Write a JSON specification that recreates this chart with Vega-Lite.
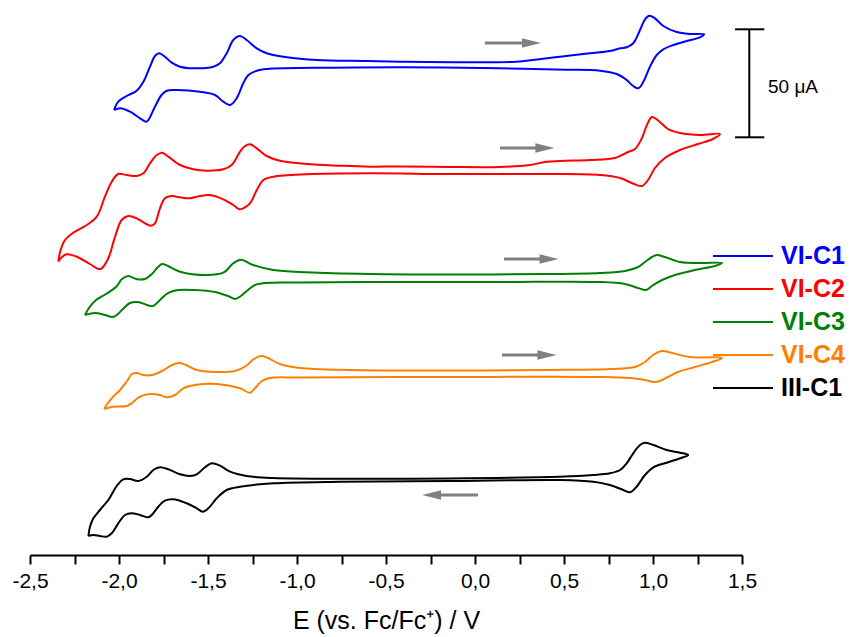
{
  "$schema": "https://vega.github.io/schema/vega-lite/v6.json",
  "width": 712,
  "height": 555,
  "autosize": {"type": "none"},
  "padding": {"left": 30, "top": 0, "right": 110, "bottom": 82},
  "background": "white",
  "config": {"view": {"stroke": null}, "font": "Liberation Sans"},
  "datasets": {
    "cv": [
      {"s":"VI-C1","k":1,"E":-2.028,"j":445},{"s":"VI-C1","k":2,"E":-2.004,"j":453.3},{"s":"VI-C1","k":3,"E":-1.957,"j":459},{"s":"VI-C1","k":4,"E":-1.901,"j":464.3},{"s":"VI-C1","k":5,"E":-1.863,"j":473.3},{"s":"VI-C1","k":6,"E":-1.826,"j":488.3},{"s":"VI-C1","k":7,"E":-1.798,"j":499},{"s":"VI-C1","k":8,"E":-1.774,"j":501.7},{"s":"VI-C1","k":9,"E":-1.742,"j":498.3},{"s":"VI-C1","k":10,"E":-1.704,"j":492.3},{"s":"VI-C1","k":11,"E":-1.657,"j":488.3},{"s":"VI-C1","k":12,"E":-1.583,"j":486.7},{"s":"VI-C1","k":13,"E":-1.47,"j":488.3},{"s":"VI-C1","k":14,"E":-1.433,"j":491.7},{"s":"VI-C1","k":15,"E":-1.395,"j":501.7},{"s":"VI-C1","k":16,"E":-1.358,"j":515},{"s":"VI-C1","k":17,"E":-1.32,"j":519},{"s":"VI-C1","k":18,"E":-1.283,"j":515},{"s":"VI-C1","k":19,"E":-1.226,"j":506.7},{"s":"VI-C1","k":20,"E":-1.17,"j":501.7},{"s":"VI-C1","k":21,"E":-1.058,"j":497.7},{"s":"VI-C1","k":22,"E":-0.889,"j":495},{"s":"VI-C1","k":23,"E":-0.608,"j":494},{"s":"VI-C1","k":24,"E":-0.421,"j":493.3},{"s":"VI-C1","k":25,"E":0.234,"j":493.3},{"s":"VI-C1","k":26,"E":0.326,"j":495},{"s":"VI-C1","k":27,"E":0.478,"j":498.3},{"s":"VI-C1","k":28,"E":0.646,"j":501.7},{"s":"VI-C1","k":29,"E":0.758,"j":504},{"s":"VI-C1","k":30,"E":0.815,"j":506.7},{"s":"VI-C1","k":31,"E":0.852,"j":507.7},{"s":"VI-C1","k":32,"E":0.889,"j":511.7},{"s":"VI-C1","k":33,"E":0.927,"j":525},{"s":"VI-C1","k":34,"E":0.955,"j":535.7},{"s":"VI-C1","k":35,"E":0.979,"j":539.3},{"s":"VI-C1","k":36,"E":1.011,"j":536.7},{"s":"VI-C1","k":37,"E":1.058,"j":529},{"s":"VI-C1","k":38,"E":1.133,"j":523},{"s":"VI-C1","k":39,"E":1.208,"j":521},{"s":"VI-C1","k":40,"E":1.287,"j":520.7},{"s":"VI-C1","k":41,"E":1.264,"j":517.7},{"s":"VI-C1","k":42,"E":1.189,"j":514},{"s":"VI-C1","k":43,"E":1.114,"j":510},{"s":"VI-C1","k":44,"E":1.058,"j":505.7},{"s":"VI-C1","k":45,"E":1.021,"j":500},{"s":"VI-C1","k":46,"E":0.983,"j":488.3},{"s":"VI-C1","k":47,"E":0.946,"j":473.3},{"s":"VI-C1","k":48,"E":0.917,"j":466.7},{"s":"VI-C1","k":49,"E":0.889,"j":469},{"s":"VI-C1","k":50,"E":0.852,"j":475},{"s":"VI-C1","k":51,"E":0.796,"j":481},{"s":"VI-C1","k":52,"E":0.702,"j":484.3},{"s":"VI-C1","k":53,"E":0.515,"j":485.3},{"s":"VI-C1","k":54,"E":0.328,"j":486},{"s":"VI-C1","k":55,"E":0.14,"j":486.7},{"s":"VI-C1","k":56,"E":-0.421,"j":487.7},{"s":"VI-C1","k":57,"E":-0.796,"j":487.3},{"s":"VI-C1","k":58,"E":-1.17,"j":486},{"s":"VI-C1","k":59,"E":-1.226,"j":484.3},{"s":"VI-C1","k":60,"E":-1.273,"j":480},{"s":"VI-C1","k":61,"E":-1.302,"j":471.7},{"s":"VI-C1","k":62,"E":-1.339,"j":456.7},{"s":"VI-C1","k":63,"E":-1.376,"j":450},{"s":"VI-C1","k":64,"E":-1.414,"j":453.3},{"s":"VI-C1","k":65,"E":-1.461,"j":460},{"s":"VI-C1","k":66,"E":-1.545,"j":463.3},{"s":"VI-C1","k":67,"E":-1.676,"j":465},{"s":"VI-C1","k":68,"E":-1.732,"j":464.3},{"s":"VI-C1","k":69,"E":-1.761,"j":460},{"s":"VI-C1","k":70,"E":-1.798,"j":448.3},{"s":"VI-C1","k":71,"E":-1.835,"j":435},{"s":"VI-C1","k":72,"E":-1.848,"j":433.3},{"s":"VI-C1","k":73,"E":-1.882,"j":436.7},{"s":"VI-C1","k":74,"E":-1.938,"j":443.3},{"s":"VI-C1","k":75,"E":-1.994,"j":446.7},{"s":"VI-C1","k":76,"E":-2.028,"j":445},

      {"s":"VI-C2","k":1,"E":-2.341,"j":293.3},{"s":"VI-C2","k":2,"E":-2.328,"j":305},{"s":"VI-C2","k":3,"E":-2.303,"j":315},{"s":"VI-C2","k":4,"E":-2.257,"j":322.3},{"s":"VI-C2","k":5,"E":-2.181,"j":330},{"s":"VI-C2","k":6,"E":-2.125,"j":338.3},{"s":"VI-C2","k":7,"E":-2.079,"j":358.3},{"s":"VI-C2","k":8,"E":-2.041,"j":373.3},{"s":"VI-C2","k":9,"E":-2.004,"j":381},{"s":"VI-C2","k":10,"E":-1.957,"j":380},{"s":"VI-C2","k":11,"E":-1.901,"j":379},{"s":"VI-C2","k":12,"E":-1.863,"j":381.7},{"s":"VI-C2","k":13,"E":-1.826,"j":391.7},{"s":"VI-C2","k":14,"E":-1.788,"j":400},{"s":"VI-C2","k":15,"E":-1.757,"j":402.3},{"s":"VI-C2","k":16,"E":-1.723,"j":398.3},{"s":"VI-C2","k":17,"E":-1.657,"j":390},{"s":"VI-C2","k":18,"E":-1.583,"j":385.7},{"s":"VI-C2","k":19,"E":-1.507,"j":384.3},{"s":"VI-C2","k":20,"E":-1.414,"j":385.7},{"s":"VI-C2","k":21,"E":-1.367,"j":390},{"s":"VI-C2","k":22,"E":-1.32,"j":403.3},{"s":"VI-C2","k":23,"E":-1.292,"j":409},{"s":"VI-C2","k":24,"E":-1.264,"j":410.7},{"s":"VI-C2","k":25,"E":-1.226,"j":406.7},{"s":"VI-C2","k":26,"E":-1.17,"j":399},{"s":"VI-C2","k":27,"E":-1.096,"j":394.3},{"s":"VI-C2","k":28,"E":-0.946,"j":391},{"s":"VI-C2","k":29,"E":-0.758,"j":389.3},{"s":"VI-C2","k":30,"E":-0.59,"j":388.3},{"s":"VI-C2","k":31,"E":-0.421,"j":388.5},{"s":"VI-C2","k":32,"E":-0.14,"j":388},{"s":"VI-C2","k":33,"E":0.14,"j":388},{"s":"VI-C2","k":34,"E":0.309,"j":390},{"s":"VI-C2","k":35,"E":0.393,"j":393},{"s":"VI-C2","k":36,"E":0.478,"j":394},{"s":"VI-C2","k":37,"E":0.646,"j":395},{"s":"VI-C2","k":38,"E":0.787,"j":397},{"s":"VI-C2","k":39,"E":0.86,"j":403},{"s":"VI-C2","k":40,"E":0.899,"j":406},{"s":"VI-C2","k":41,"E":0.938,"j":417},{"s":"VI-C2","k":42,"E":0.966,"j":430},{"s":"VI-C2","k":43,"E":0.994,"j":438},{"s":"VI-C2","k":44,"E":1.039,"j":433},{"s":"VI-C2","k":45,"E":1.084,"j":426},{"s":"VI-C2","k":46,"E":1.152,"j":422},{"s":"VI-C2","k":47,"E":1.264,"j":420},{"s":"VI-C2","k":48,"E":1.376,"j":421},{"s":"VI-C2","k":49,"E":1.337,"j":416},{"s":"VI-C2","k":50,"E":1.253,"j":411},{"s":"VI-C2","k":51,"E":1.152,"j":405},{"s":"VI-C2","k":52,"E":1.067,"j":397},{"s":"VI-C2","k":53,"E":1.011,"j":387},{"s":"VI-C2","k":54,"E":0.972,"j":375},{"s":"VI-C2","k":55,"E":0.938,"j":369},{"s":"VI-C2","k":56,"E":0.893,"j":371},{"s":"VI-C2","k":57,"E":0.815,"j":377},{"s":"VI-C2","k":58,"E":0.702,"j":380},{"s":"VI-C2","k":59,"E":0.421,"j":381},{"s":"VI-C2","k":60,"E":-0.14,"j":381},{"s":"VI-C2","k":61,"E":-0.59,"j":381.7},{"s":"VI-C2","k":62,"E":-0.946,"j":380.7},{"s":"VI-C2","k":63,"E":-1.133,"j":378.3},{"s":"VI-C2","k":64,"E":-1.189,"j":375},{"s":"VI-C2","k":65,"E":-1.226,"j":365},{"s":"VI-C2","k":66,"E":-1.264,"j":351.7},{"s":"VI-C2","k":67,"E":-1.302,"j":346.7},{"s":"VI-C2","k":68,"E":-1.324,"j":345.7},{"s":"VI-C2","k":69,"E":-1.358,"j":350},{"s":"VI-C2","k":70,"E":-1.414,"j":355.7},{"s":"VI-C2","k":71,"E":-1.489,"j":360},{"s":"VI-C2","k":72,"E":-1.545,"j":359},{"s":"VI-C2","k":73,"E":-1.601,"j":356.7},{"s":"VI-C2","k":74,"E":-1.657,"j":357.7},{"s":"VI-C2","k":75,"E":-1.704,"j":359},{"s":"VI-C2","k":76,"E":-1.742,"j":356.7},{"s":"VI-C2","k":77,"E":-1.77,"j":346.7},{"s":"VI-C2","k":78,"E":-1.798,"j":331.7},{"s":"VI-C2","k":79,"E":-1.822,"j":329.3},{"s":"VI-C2","k":80,"E":-1.854,"j":331.7},{"s":"VI-C2","k":81,"E":-1.901,"j":336.7},{"s":"VI-C2","k":82,"E":-1.948,"j":339},{"s":"VI-C2","k":83,"E":-1.985,"j":335},{"s":"VI-C2","k":84,"E":-2.022,"j":318.3},{"s":"VI-C2","k":85,"E":-2.06,"j":296.7},{"s":"VI-C2","k":86,"E":-2.097,"j":286.7},{"s":"VI-C2","k":87,"E":-2.116,"j":286},{"s":"VI-C2","k":88,"E":-2.163,"j":291},{"s":"VI-C2","k":89,"E":-2.238,"j":298.3},{"s":"VI-C2","k":90,"E":-2.294,"j":300.7},{"s":"VI-C2","k":91,"E":-2.322,"j":297.7},{"s":"VI-C2","k":92,"E":-2.341,"j":293.3},

      {"s":"VI-C3","k":1,"E":-2.191,"j":240},{"s":"VI-C3","k":2,"E":-2.169,"j":247},{"s":"VI-C3","k":3,"E":-2.129,"j":255},{"s":"VI-C3","k":4,"E":-2.073,"j":261},{"s":"VI-C3","k":5,"E":-2.017,"j":268},{"s":"VI-C3","k":6,"E":-1.983,"j":276},{"s":"VI-C3","k":7,"E":-1.949,"j":279},{"s":"VI-C3","k":8,"E":-1.904,"j":276},{"s":"VI-C3","k":9,"E":-1.854,"j":276},{"s":"VI-C3","k":10,"E":-1.815,"j":281},{"s":"VI-C3","k":11,"E":-1.781,"j":288},{"s":"VI-C3","k":12,"E":-1.758,"j":291},{"s":"VI-C3","k":13,"E":-1.725,"j":289},{"s":"VI-C3","k":14,"E":-1.657,"j":283.3},{"s":"VI-C3","k":15,"E":-1.507,"j":280},{"s":"VI-C3","k":16,"E":-1.414,"j":282.3},{"s":"VI-C3","k":17,"E":-1.358,"j":291.7},{"s":"VI-C3","k":18,"E":-1.316,"j":295.3},{"s":"VI-C3","k":19,"E":-1.246,"j":290},{"s":"VI-C3","k":20,"E":-1.133,"j":285},{"s":"VI-C3","k":21,"E":-0.946,"j":282.7},{"s":"VI-C3","k":22,"E":-0.59,"j":281},{"s":"VI-C3","k":23,"E":-0.14,"j":280.5},{"s":"VI-C3","k":24,"E":0.421,"j":281},{"s":"VI-C3","k":25,"E":0.702,"j":282},{"s":"VI-C3","k":26,"E":0.843,"j":284},{"s":"VI-C3","k":27,"E":0.916,"j":288},{"s":"VI-C3","k":28,"E":0.955,"j":293},{"s":"VI-C3","k":29,"E":0.994,"j":298},{"s":"VI-C3","k":30,"E":1.022,"j":300},{"s":"VI-C3","k":31,"E":1.067,"j":298},{"s":"VI-C3","k":32,"E":1.152,"j":293},{"s":"VI-C3","k":33,"E":1.264,"j":292},{"s":"VI-C3","k":34,"E":1.388,"j":292},{"s":"VI-C3","k":35,"E":1.348,"j":289},{"s":"VI-C3","k":36,"E":1.236,"j":285},{"s":"VI-C3","k":37,"E":1.124,"j":280},{"s":"VI-C3","k":38,"E":1.051,"j":275},{"s":"VI-C3","k":39,"E":0.994,"j":269},{"s":"VI-C3","k":40,"E":0.961,"j":265},{"s":"VI-C3","k":41,"E":0.916,"j":267},{"s":"VI-C3","k":42,"E":0.843,"j":271},{"s":"VI-C3","k":43,"E":0.702,"j":273},{"s":"VI-C3","k":44,"E":0.14,"j":273},{"s":"VI-C3","k":45,"E":-0.421,"j":273},{"s":"VI-C3","k":46,"E":-0.983,"j":272.5},{"s":"VI-C3","k":47,"E":-1.18,"j":272},{"s":"VI-C3","k":48,"E":-1.236,"j":270},{"s":"VI-C3","k":49,"E":-1.275,"j":265},{"s":"VI-C3","k":50,"E":-1.315,"j":259},{"s":"VI-C3","k":51,"E":-1.348,"j":256},{"s":"VI-C3","k":52,"E":-1.388,"j":259},{"s":"VI-C3","k":53,"E":-1.461,"j":263},{"s":"VI-C3","k":54,"E":-1.573,"j":265},{"s":"VI-C3","k":55,"E":-1.669,"j":265},{"s":"VI-C3","k":56,"E":-1.725,"j":262},{"s":"VI-C3","k":57,"E":-1.77,"j":255},{"s":"VI-C3","k":58,"E":-1.809,"j":249},{"s":"VI-C3","k":59,"E":-1.843,"j":250},{"s":"VI-C3","k":60,"E":-1.893,"j":253},{"s":"VI-C3","k":61,"E":-1.938,"j":252},{"s":"VI-C3","k":62,"E":-1.972,"j":247},{"s":"VI-C3","k":63,"E":-2.006,"j":241},{"s":"VI-C3","k":64,"E":-2.034,"j":238},{"s":"VI-C3","k":65,"E":-2.079,"j":240},{"s":"VI-C3","k":66,"E":-2.135,"j":242},{"s":"VI-C3","k":67,"E":-2.191,"j":240},

      {"s":"VI-C4","k":1,"E":-2.084,"j":146},{"s":"VI-C4","k":2,"E":-2.062,"j":152},{"s":"VI-C4","k":3,"E":-2.034,"j":158},{"s":"VI-C4","k":4,"E":-1.994,"j":165},{"s":"VI-C4","k":5,"E":-1.955,"j":174},{"s":"VI-C4","k":6,"E":-1.927,"j":181},{"s":"VI-C4","k":7,"E":-1.899,"j":182},{"s":"VI-C4","k":8,"E":-1.865,"j":180},{"s":"VI-C4","k":9,"E":-1.815,"j":180},{"s":"VI-C4","k":10,"E":-1.758,"j":184},{"s":"VI-C4","k":11,"E":-1.702,"j":190},{"s":"VI-C4","k":12,"E":-1.663,"j":192},{"s":"VI-C4","k":13,"E":-1.624,"j":190},{"s":"VI-C4","k":14,"E":-1.562,"j":185},{"s":"VI-C4","k":15,"E":-1.461,"j":183},{"s":"VI-C4","k":16,"E":-1.348,"j":184},{"s":"VI-C4","k":17,"E":-1.287,"j":189},{"s":"VI-C4","k":18,"E":-1.242,"j":196},{"s":"VI-C4","k":19,"E":-1.202,"j":199},{"s":"VI-C4","k":20,"E":-1.163,"j":197},{"s":"VI-C4","k":21,"E":-1.096,"j":191},{"s":"VI-C4","k":22,"E":-0.983,"j":187},{"s":"VI-C4","k":23,"E":-0.702,"j":185},{"s":"VI-C4","k":24,"E":-0.14,"j":184.5},{"s":"VI-C4","k":25,"E":0.421,"j":185},{"s":"VI-C4","k":26,"E":0.758,"j":186},{"s":"VI-C4","k":27,"E":0.899,"j":188},{"s":"VI-C4","k":28,"E":0.955,"j":193},{"s":"VI-C4","k":29,"E":1.0,"j":200},{"s":"VI-C4","k":30,"E":1.051,"j":204},{"s":"VI-C4","k":31,"E":1.107,"j":202},{"s":"VI-C4","k":32,"E":1.208,"j":198},{"s":"VI-C4","k":33,"E":1.388,"j":197},{"s":"VI-C4","k":34,"E":1.331,"j":193},{"s":"VI-C4","k":35,"E":1.236,"j":188},{"s":"VI-C4","k":36,"E":1.14,"j":183},{"s":"VI-C4","k":37,"E":1.084,"j":178},{"s":"VI-C4","k":38,"E":1.039,"j":174},{"s":"VI-C4","k":39,"E":1.006,"j":173},{"s":"VI-C4","k":40,"E":0.955,"j":175},{"s":"VI-C4","k":41,"E":0.871,"j":177},{"s":"VI-C4","k":42,"E":0.702,"j":178},{"s":"VI-C4","k":43,"E":-0.14,"j":178},{"s":"VI-C4","k":44,"E":-0.983,"j":177.5},{"s":"VI-C4","k":45,"E":-1.152,"j":177},{"s":"VI-C4","k":46,"E":-1.197,"j":174},{"s":"VI-C4","k":47,"E":-1.23,"j":168},{"s":"VI-C4","k":48,"E":-1.264,"j":162.3},{"s":"VI-C4","k":49,"E":-1.32,"j":166.7},{"s":"VI-C4","k":50,"E":-1.451,"j":171},{"s":"VI-C4","k":51,"E":-1.563,"j":170.3},{"s":"VI-C4","k":52,"E":-1.639,"j":166.7},{"s":"VI-C4","k":53,"E":-1.685,"j":160},{"s":"VI-C4","k":54,"E":-1.732,"j":157.7},{"s":"VI-C4","k":55,"E":-1.77,"j":160},{"s":"VI-C4","k":56,"E":-1.826,"j":161},{"s":"VI-C4","k":57,"E":-1.882,"j":158.3},{"s":"VI-C4","k":58,"E":-1.929,"j":151.7},{"s":"VI-C4","k":59,"E":-1.957,"j":149},{"s":"VI-C4","k":60,"E":-2.032,"j":148.3},{"s":"VI-C4","k":61,"E":-2.084,"j":146},

      {"s":"III-C1","k":1,"E":-2.172,"j":19},{"s":"III-C1","k":2,"E":-2.163,"j":28.3},{"s":"III-C1","k":3,"E":-2.144,"j":36.7},{"s":"III-C1","k":4,"E":-2.107,"j":45},{"s":"III-C1","k":5,"E":-2.06,"j":55},{"s":"III-C1","k":6,"E":-2.013,"j":69},{"s":"III-C1","k":7,"E":-1.976,"j":75.7},{"s":"III-C1","k":8,"E":-1.938,"j":76},{"s":"III-C1","k":9,"E":-1.892,"j":74},{"s":"III-C1","k":10,"E":-1.844,"j":78.3},{"s":"III-C1","k":11,"E":-1.807,"j":85},{"s":"III-C1","k":12,"E":-1.77,"j":87.7},{"s":"III-C1","k":13,"E":-1.723,"j":85.7},{"s":"III-C1","k":14,"E":-1.657,"j":80.7},{"s":"III-C1","k":15,"E":-1.601,"j":79},{"s":"III-C1","k":16,"E":-1.563,"j":80.7},{"s":"III-C1","k":17,"E":-1.517,"j":87.7},{"s":"III-C1","k":18,"E":-1.479,"j":91.7},{"s":"III-C1","k":19,"E":-1.433,"j":89.3},{"s":"III-C1","k":20,"E":-1.376,"j":83.3},{"s":"III-C1","k":21,"E":-1.283,"j":79},{"s":"III-C1","k":22,"E":-1.133,"j":77},{"s":"III-C1","k":23,"E":-0.758,"j":76.3},{"s":"III-C1","k":24,"E":-0.14,"j":76.5},{"s":"III-C1","k":25,"E":0.478,"j":78.3},{"s":"III-C1","k":26,"E":0.665,"j":80},{"s":"III-C1","k":27,"E":0.758,"j":81.7},{"s":"III-C1","k":28,"E":0.815,"j":85},{"s":"III-C1","k":29,"E":0.852,"j":91.7},{"s":"III-C1","k":30,"E":0.889,"j":101.7},{"s":"III-C1","k":31,"E":0.927,"j":110},{"s":"III-C1","k":32,"E":0.955,"j":112.3},{"s":"III-C1","k":33,"E":1.002,"j":110},{"s":"III-C1","k":34,"E":1.077,"j":105},{"s":"III-C1","k":35,"E":1.152,"j":102.3},{"s":"III-C1","k":36,"E":1.198,"j":100},{"s":"III-C1","k":37,"E":1.17,"j":97.7},{"s":"III-C1","k":38,"E":1.077,"j":92.3},{"s":"III-C1","k":39,"E":1.002,"j":87.7},{"s":"III-C1","k":40,"E":0.955,"j":80},{"s":"III-C1","k":41,"E":0.908,"j":68.3},{"s":"III-C1","k":42,"E":0.871,"j":62.7},{"s":"III-C1","k":43,"E":0.833,"j":65},{"s":"III-C1","k":44,"E":0.758,"j":70},{"s":"III-C1","k":45,"E":0.665,"j":73.3},{"s":"III-C1","k":46,"E":0.478,"j":75},{"s":"III-C1","k":47,"E":-0.14,"j":74},{"s":"III-C1","k":48,"E":-0.758,"j":73.3},{"s":"III-C1","k":49,"E":-1.133,"j":71.7},{"s":"III-C1","k":50,"E":-1.32,"j":68.3},{"s":"III-C1","k":51,"E":-1.395,"j":65},{"s":"III-C1","k":52,"E":-1.451,"j":56.7},{"s":"III-C1","k":53,"E":-1.498,"j":46.7},{"s":"III-C1","k":54,"E":-1.53,"j":43.3},{"s":"III-C1","k":55,"E":-1.563,"j":46.7},{"s":"III-C1","k":56,"E":-1.62,"j":51.7},{"s":"III-C1","k":57,"E":-1.695,"j":55.7},{"s":"III-C1","k":58,"E":-1.742,"j":54.3},{"s":"III-C1","k":59,"E":-1.779,"j":48.3},{"s":"III-C1","k":60,"E":-1.816,"j":40},{"s":"III-C1","k":61,"E":-1.835,"j":37.7},{"s":"III-C1","k":62,"E":-1.882,"j":40},{"s":"III-C1","k":63,"E":-1.929,"j":41.7},{"s":"III-C1","k":64,"E":-1.966,"j":40},{"s":"III-C1","k":65,"E":-2.004,"j":31.7},{"s":"III-C1","k":66,"E":-2.041,"j":21.7},{"s":"III-C1","k":67,"E":-2.069,"j":18.3},{"s":"III-C1","k":68,"E":-2.107,"j":19},{"s":"III-C1","k":69,"E":-2.144,"j":20},{"s":"III-C1","k":70,"E":-2.172,"j":19}
    ],
    "shafts": [
      {"E":0.056,"E2":0.27,"j":512},{"E":0.14,"E2":0.348,"j":407},{"E":0.163,"E2":0.371,"j":296},{"E":0.152,"E2":0.36,"j":200},{"E":-0.191,"E2":0.017,"j":60}
    ],
    "heads": [
      {"E":0.317,"j":512,"d":"r"},{"E":0.393,"j":407,"d":"r"},{"E":0.416,"j":296,"d":"r"},{"E":0.404,"j":200,"d":"r"},{"E":-0.244,"j":60,"d":"l"}
    ],
    "bar": [
      {"E":1.541,"E2":1.541,"j":417.7,"j2":525.7},{"E":1.461,"E2":1.625,"j":525.7,"j2":525.7},{"E":1.461,"E2":1.625,"j":417.7,"j2":417.7}
    ],
    "lbl": [{"E":1.646,"j":468,"t":"50 μA"}]
  },
  "layer": [
    {
      "data": {"name": "cv"},
      "mark": {"type": "line", "strokeWidth": 2, "interpolate": "catmull-rom"},
      "encoding": {
        "x": {"field": "E", "type": "quantitative",
          "scale": {"domain": [-2.5, 1.5], "nice": false, "zero": false},
          "axis": {
            "title": "E (vs. Fc/Fc⁺) / V",
            "values": [-2.5,-2.25,-2,-1.75,-1.5,-1.25,-1,-0.75,-0.5,-0.25,0,0.25,0.5,0.75,1,1.25,1.5],
            "labelExpr": "abs(datum.value*2 - round(datum.value*2)) < 0.001 ? (datum.value < 0 ? '-' : '') + replace(format(abs(datum.value), '.1f'), '.', ',') : ''",
            "labelFont": "Liberation Sans", "labelFontSize": 21, "labelColor": "#000000",
            "labelFlush": false, "labelOverlap": false, "labelPadding": 6, "labelBound": false,
            "domainColor": "#000000", "domainWidth": 2, "tickColor": "#000000", "tickWidth": 2, "tickSize": 9,
            "titleFont": "Liberation Sans", "titleFontSize": 25, "titleFontWeight": "normal", "titleColor": "#000000", "titlePadding": 17,
            "grid": false,
            "encode": {"ticks": {"update": {"y2": {"signal": "abs(datum.value*2 - round(datum.value*2)) < 0.001 ? 9 : 5"}}}}
          }
        },
        "y": {"field": "j", "type": "quantitative", "scale": {"domain": [0, 555], "nice": false, "zero": false}, "axis": null},
        "color": {"field": "s", "type": "nominal",
          "scale": {"domain": ["VI-C1","VI-C2","VI-C3","VI-C4","III-C1"], "range": ["#0000ff","#ff0000","#008000","#ff8000","#000000"]},
          "legend": {
            "orient": "none", "legendX": 697, "legendY": 240, "title": null, "padding": 0,
            "symbolType": "M-2,0L2,0", "symbolSize": 900, "symbolStrokeWidth": 2,
            "labelFont": "Liberation Sans", "labelFontSize": 25, "labelFontWeight": "bold",
            "labelOffset": 22, "rowPadding": 4, "labelLimit": 0,
            "encode": {"labels": {"update": {"fill": {"scale": "color", "field": "value"}}}}
          }
        },
        "order": {"field": "k", "type": "quantitative"}
      }
    },
    {
      "data": {"name": "shafts"},
      "mark": {"type": "rule", "color": "#808080", "strokeWidth": 3},
      "encoding": {
        "x": {"field": "E", "type": "quantitative", "scale": {"domain": [-2.5, 1.5], "nice": false, "zero": false}},
        "x2": {"field": "E2"},
        "y": {"field": "j", "type": "quantitative", "scale": {"domain": [0, 555], "nice": false, "zero": false}, "axis": null}
      }
    },
    {
      "data": {"name": "heads"},
      "mark": {"type": "point", "filled": true, "color": "#808080", "opacity": 1, "size": 361, "strokeWidth": 0},
      "encoding": {
        "x": {"field": "E", "type": "quantitative", "scale": {"domain": [-2.5, 1.5], "nice": false, "zero": false}},
        "y": {"field": "j", "type": "quantitative", "scale": {"domain": [0, 555], "nice": false, "zero": false}, "axis": null},
        "shape": {"field": "d", "type": "nominal", "scale": {"domain": ["r","l"], "range": ["M-1,-0.5L1,0L-1,0.5Z","M1,-0.5L-1,0L1,0.5Z"]}, "legend": null}
      }
    },
    {
      "data": {"name": "bar"},
      "mark": {"type": "rule", "color": "#000000", "strokeWidth": 2},
      "encoding": {
        "x": {"field": "E", "type": "quantitative", "scale": {"domain": [-2.5, 1.5], "nice": false, "zero": false}},
        "x2": {"field": "E2"},
        "y": {"field": "j", "type": "quantitative", "scale": {"domain": [0, 555], "nice": false, "zero": false}, "axis": null},
        "y2": {"field": "j2"}
      }
    },
    {
      "data": {"name": "lbl"},
      "mark": {"type": "text", "align": "left", "baseline": "middle", "font": "Liberation Sans", "fontSize": 19, "color": "#000000"},
      "encoding": {
        "x": {"field": "E", "type": "quantitative", "scale": {"domain": [-2.5, 1.5], "nice": false, "zero": false}},
        "y": {"field": "j", "type": "quantitative", "scale": {"domain": [0, 555], "nice": false, "zero": false}, "axis": null},
        "text": {"field": "t"}
      }
    }
  ]
}
